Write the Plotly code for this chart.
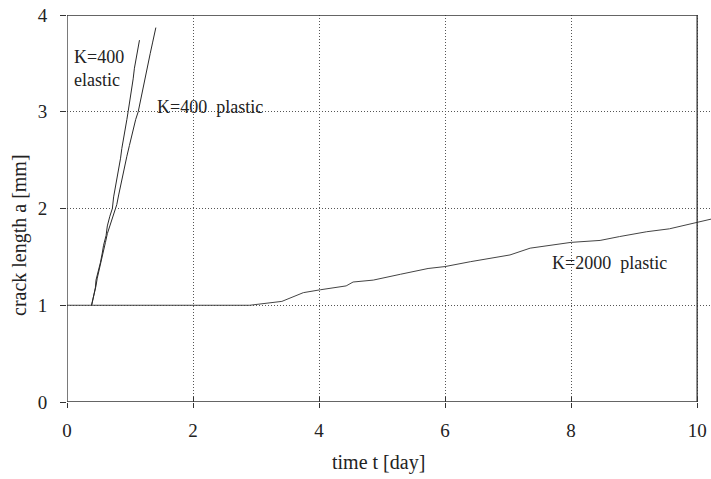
import plotly.graph_objects as go

# ---- data ----
t_k400_elastic = [0.39, 0.42, 0.45, 0.46, 0.50, 0.53, 0.56, 0.58, 0.62, 0.64, 0.68, 0.72,
                  0.74, 0.77, 0.79, 0.82, 0.85, 0.87, 0.90, 0.92, 0.95, 0.97, 1.00, 1.02,
                  1.05, 1.07, 1.10, 1.12, 1.15]
a_k400_elastic = [1.00, 1.10, 1.18, 1.26, 1.35, 1.44, 1.54, 1.62, 1.72, 1.82, 1.92, 2.00,
                  2.12, 2.22, 2.30, 2.42, 2.52, 2.62, 2.72, 2.82, 2.92, 3.00, 3.12, 3.22,
                  3.34, 3.45, 3.56, 3.64, 3.74]

t_k400_plastic = [0.39, 0.43, 0.46, 0.48, 0.51, 0.53, 0.57, 0.61, 0.64, 0.68, 0.72, 0.76,
                  0.79, 0.82, 0.85, 0.88, 0.92, 0.95, 0.99, 1.02, 1.06, 1.09, 1.13, 1.16,
                  1.20, 1.24, 1.28, 1.32, 1.36, 1.41]
a_k400_plastic = [1.00, 1.10, 1.20, 1.28, 1.36, 1.44, 1.55, 1.65, 1.74, 1.82, 1.90, 1.97,
                  2.04, 2.14, 2.24, 2.33, 2.44, 2.54, 2.65, 2.74, 2.84, 2.92, 3.00, 3.10,
                  3.22, 3.35, 3.48, 3.60, 3.72, 3.87]

t_k2000_plastic = [0.0, 2.9, 3.41, 3.75, 4.02, 4.43, 4.54, 4.86, 5.29, 5.73, 6.0, 6.4,
                   7.03, 7.35, 8.0, 8.46, 8.77, 9.2, 9.56, 10.0, 10.22]
a_k2000_plastic = [1.0, 1.0, 1.04, 1.13, 1.16, 1.20, 1.24, 1.26, 1.32, 1.38, 1.40, 1.45,
                   1.52, 1.59, 1.65, 1.67, 1.71, 1.76, 1.79, 1.86, 1.89]

x_ticks = [0, 2, 4, 6, 8, 10]
y_ticks = [0, 1, 2, 3, 4]
x_title = "time t [day]"
y_title = "crack length a [mm]"

FONT = "Liberation Serif"
INK = "#222222"
LINE = "#2a2a2a"

W, H = 711, 479
ML, MR, MT, MB = 67, 0, 15, 77
pw, ph = W - ML - MR, H - MT - MB

fig = go.Figure()
for tx, ay, col in [(t_k2000_plastic, a_k2000_plastic, "#444444"),
                    (t_k400_elastic, a_k400_elastic, LINE),
                    (t_k400_plastic, a_k400_plastic, LINE)]:
    fig.add_trace(go.Scatter(x=tx, y=ay, mode="lines",
                             line=dict(color=col, width=1), showlegend=False,
                             hoverinfo="skip"))
# invisible trace to activate the overlay axis (crossing ticks)
fig.add_trace(go.Scatter(x=[0], y=[0], xaxis="x2", yaxis="y", mode="markers",
                         marker=dict(opacity=0), showlegend=False, hoverinfo="skip"))

# frame of the plot (0..10 x 0..4)
fig.add_shape(type="rect", xref="x", yref="y", x0=x_ticks[0], x1=x_ticks[-1],
              y0=y_ticks[0], y1=y_ticks[-1], line=dict(color="#333333", width=1.3),
              layer="above")

axis_common = dict(showline=False, zeroline=False, showgrid=True,
                   gridcolor="#555555", gridwidth=1, griddash="1px,2px",
                   tickcolor="#333333", tickwidth=1,
                   tickfont=dict(family=FONT, size=19, color=INK))

fig.update_layout(
    width=W, height=H,
    margin=dict(l=ML, r=MR, t=MT, b=MB),
    paper_bgcolor="white", plot_bgcolor="white",
    xaxis=dict(range=[0, 10.22], tickvals=x_ticks, ticks="outside", ticklen=5,
               ticklabelstandoff=6, **axis_common),
    yaxis=dict(range=[0, 4], tickvals=y_ticks, ticks="outside", ticklen=6,
               ticklabelstandoff=9, **axis_common),
    xaxis2=dict(overlaying="x", matches="x", anchor="y", side="bottom",
                tickvals=x_ticks, ticks="inside", ticklen=5, tickcolor="#333333",
                showticklabels=False, showgrid=False, zeroline=False, showline=False),
    showlegend=False,
    annotations=[
        dict(text="K=400<br>elastic", x=0.08, y=3.45, xref="x", yref="y",
             xanchor="left", yanchor="middle", align="left", showarrow=False,
             font=dict(family=FONT, size=18, color=INK)),
        dict(text="K=400\u00a0 plastic", x=1.40, y=3.05, xref="x", yref="y",
             xanchor="left", yanchor="middle", showarrow=False,
             font=dict(family=FONT, size=18, color=INK)),
        dict(text="K=2000\u00a0 plastic", x=7.67, y=1.44, xref="x", yref="y",
             xanchor="left", yanchor="middle", showarrow=False,
             font=dict(family=FONT, size=18, color=INK)),
        dict(text=x_title, x=(378 - ML) / pw, y=(H - MB - 463) / ph,
             xref="paper", yref="paper", xanchor="center", yanchor="middle",
             showarrow=False, font=dict(family=FONT, size=20, color=INK)),
        dict(text=y_title, x=(19 - ML) / pw, y=(H - MB - 235) / ph,
             xref="paper", yref="paper", xanchor="center", yanchor="middle",
             showarrow=False, textangle=-90, font=dict(family=FONT, size=20, color=INK)),
    ],
)

fig.write_html("out.html", config={"displayModeBar": False},
               post_script="document.body.style.margin='0';document.body.style.overflow='hidden';")
